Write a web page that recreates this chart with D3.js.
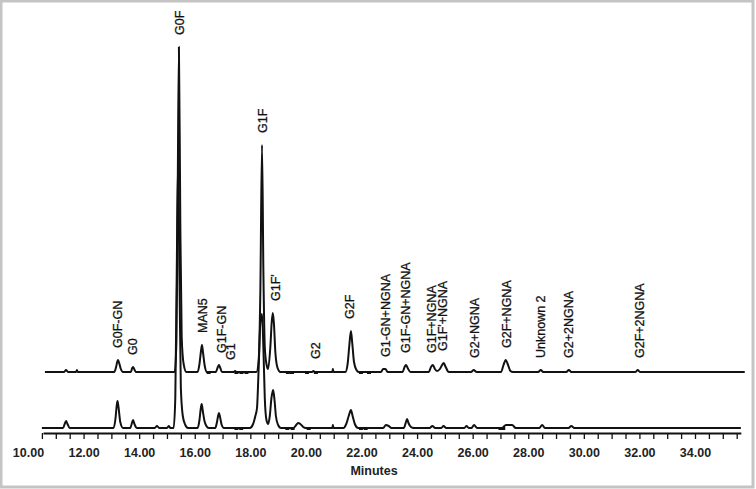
<!DOCTYPE html>
<html>
<head>
<meta charset="utf-8">
<script src="https://cdn.jsdelivr.net/npm/d3@7"></script>
<style>
  body { margin: 0; background: #fff; }
  svg { display: block; font-family: "Liberation Sans", Arial, sans-serif; }
</style>
</head>
<body>
<svg id="chart" width="756" height="489"></svg>
<script>
// retention time (min) / signal pairs
const upperTrace = [
  [10.61, 0],
  [11.30, 0], [11.37, 2], [11.44, 0],
  [11.73, 0], [11.76, 2], [11.79, 0],
  [13.10, 0], [13.17, 5], [13.21, 10], [13.24, 12], [13.28, 9], [13.34, 3], [13.42, 0],
  [13.70, 0], [13.75, 4], [13.78, 5], [13.82, 3], [13.88, 0],
  [15.28, 0], [15.34, 30], [15.38, 150], [15.43, 325], [15.48, 150], [15.53, 35], [15.60, 8], [15.70, 0],
  [16.10, 0], [16.17, 8], [16.22, 20], [16.26, 27], [16.30, 19], [16.36, 6], [16.44, 0],
  [16.76, 0], [16.83, 5], [16.87, 7], [16.92, 4], [16.98, 0],
  [17.40, 0], [17.45, 1], [17.50, 0],
  [18.22, 0], [18.30, 12], [18.36, 80], [18.42, 227], [18.47, 100], [18.52, 25], [18.58, 8], [18.64, 3],
  [18.72, 25], [18.77, 50], [18.81, 59], [18.85, 48], [18.90, 20], [18.98, 4], [19.08, 0],
  [20.22, 0], [20.27, 1], [20.32, 0],
  [20.95, 0], [20.97, 3], [20.99, 0],
  [21.42, 0], [21.50, 8], [21.56, 26], [21.62, 41], [21.67, 28], [21.73, 10], [21.82, 2], [21.90, 0],
  [22.70, 0], [22.78, 3], [22.86, 3], [22.94, 0],
  [23.48, 0], [23.55, 5], [23.60, 7], [23.66, 4], [23.76, 0],
  [24.42, 0], [24.50, 5], [24.57, 7], [24.64, 3], [24.72, 1],
  [24.82, 3], [24.90, 7], [24.96, 9], [25.03, 5], [25.14, 0],
  [25.94, 0], [26.04, 2], [26.14, 0],
  [27.02, 0], [27.11, 7], [27.19, 12], [27.26, 8], [27.36, 1], [27.45, 0],
  [28.36, 0], [28.45, 2], [28.54, 0],
  [29.37, 0], [29.46, 2], [29.55, 0],
  [31.86, 0], [31.94, 2], [32.02, 0],
  [35.79, 0]
];

const lowerTrace = [
  [10.50, 0],
  [11.26, 0], [11.32, 4], [11.37, 7], [11.42, 4], [11.50, 0],
  [13.08, 0], [13.15, 10], [13.19, 22], [13.22, 27], [13.26, 20], [13.32, 6], [13.42, 0],
  [13.68, 0], [13.74, 5], [13.78, 8], [13.83, 4], [13.92, 0],
  [14.56, 0], [14.64, 2], [14.72, 0],
  [15.00, 0], [15.07, 2], [15.12, 0],
  [15.24, 0], [15.30, 30], [15.35, 150], [15.40, 267], [15.45, 150], [15.50, 40], [15.57, 12], [15.66, 3], [15.76, 0],
  [16.10, 0], [16.17, 8], [16.21, 18], [16.25, 24], [16.29, 17], [16.35, 7], [16.42, 2], [16.50, 0],
  [16.74, 0], [16.80, 6], [16.84, 12], [16.87, 15], [16.91, 11], [16.97, 3], [17.05, 0],
  [17.98, 0], [18.10, 4], [18.18, 12], [18.24, 20], [18.30, 60], [18.36, 105], [18.42, 114], [18.47, 80], [18.52, 30], [18.58, 8], [18.64, 4],
  [18.70, 12], [18.76, 30], [18.82, 38], [18.87, 28], [18.92, 12], [19.00, 3], [19.10, 0],
  [19.55, 0], [19.65, 3], [19.72, 5], [19.80, 4], [19.90, 1], [20.00, 0],
  [20.95, 0], [20.97, 3], [20.99, 0],
  [21.35, 0], [21.45, 4], [21.54, 12], [21.62, 18], [21.68, 12], [21.76, 4], [21.88, 0],
  [22.78, 0], [22.88, 3], [22.98, 2], [23.08, 0],
  [23.52, 0], [23.60, 6], [23.64, 9], [23.69, 5], [23.78, 1], [23.88, 0],
  [24.45, 0], [24.55, 2], [24.65, 0],
  [24.87, 0], [24.95, 2], [25.05, 0],
  [25.70, 0], [25.78, 2], [25.86, 0],
  [25.96, 0], [26.05, 3], [26.16, 0],
  [27.05, 0], [27.20, 3], [27.42, 3], [27.55, 0],
  [28.40, 0], [28.50, 3], [28.60, 0],
  [29.45, 0], [29.55, 2], [29.66, 0],
  [35.65, 0]
];

// integration marks sitting on each baseline
const upperMarks = [16.50, 17.50, 17.68, 17.86, 19.35, 19.50, 20.04, 20.36, 21.98, 22.27];
const lowerMarks = [17.50, 17.67, 19.33, 19.52, 20.10, 21.98, 22.15, 27.00, 27.10];

const peakNames = ["G0F-GN", "G0", "G0F", "MAN5", "G1F-GN", "G1", "G1F", "G1F'", "G2", "G2F",
  "G1-GN+NGNA", "G1F-GN+NGNA", "G1F+NGNA", "G1F'+NGNA", "G2+NGNA", "G2F+NGNA",
  "Unknown 2", "G2+2NGNA", "G2F+2NGNA"];
const peakTimes = [13.24, 13.78, 15.47, 16.29, 16.98, 17.30, 18.45, 18.92, 20.36, 21.58,
  22.88, 23.60, 24.53, 24.93, 26.08, 27.23, 28.45, 29.46, 32.01];

const tickLabels = d3.range(10, 35, 2);
const minorTicks = d3.range(10.5, 35.51, 0.5);
const axisStart = 10.54, axisEnd = 35.65;
const upperOffset = 56;

const svg = d3.select("#chart");

// grey frame of the figure
svg.append("rect")
  .attr("x", 1).attr("y", 1)
  .attr("width", 752).attr("height", 486)
  .attr("fill", "none")
  .attr("stroke", "#c4c4c4")
  .attr("stroke-width", 3);

const x = d3.scaleLinear().domain([10, 34]).range([28, 695]);
const y = d3.scaleLinear().domain([0, 400]).range([428, 28]);

const line = d3.line()
  .x(d => x(d[0]))
  .y(d => y(d[1]))
  .curve(d3.curveMonotoneX);

svg.append("path")
  .datum(lowerTrace)
  .attr("d", line)
  .attr("fill", "none")
  .attr("stroke", "#111")
  .attr("stroke-width", 2)
  .attr("stroke-linejoin", "round");

svg.append("path")
  .datum(upperTrace.map(d => [d[0], d[1] + upperOffset]))
  .attr("d", line)
  .attr("fill", "none")
  .attr("stroke", "#111")
  .attr("stroke-width", 2)
  .attr("stroke-linejoin", "round");

// little integration squares
function drawMarks(times, base) {
  svg.append("g").selectAll("rect")
    .data(times)
    .join("rect")
    .attr("x", d => x(d) - 2)
    .attr("y", y(base) - 1)
    .attr("width", 4)
    .attr("height", 3)
    .attr("fill", "#111");
}
drawMarks(upperMarks, upperOffset);
drawMarks(lowerMarks, 0);

// peak labels, rotated, sitting just above the upper trace
function upperTop(t) {
  const near = upperTrace.filter(d => Math.abs(d[0] - t) < 0.12);
  return d3.max(near, d => d[1]) || 0;
}
const labels = peakNames.map((name, i) => ({ name: name, t: peakTimes[i] }));

svg.append("g").selectAll("text")
  .data(labels)
  .join("text")
  .attr("transform", d => {
    const by = Math.min(y(upperTop(d.t) + upperOffset) - 12, y(upperOffset) - 10);
    return `translate(${x(d.t)},${by}) rotate(-90)`;
  })
  .attr("dy", "0.35em")
  .attr("font-size", 12.5)
  .attr("fill", "#111")
  .attr("stroke", "#111")
  .attr("stroke-width", 0.3)
  .text(d => d.name);

// x axis: line and half-minute ticks
const axisScale = x.copy()
  .domain([axisStart, axisEnd])
  .range([x(axisStart), x(axisEnd)]);

const axisG = svg.append("g")
  .attr("transform", "translate(0,433)")
  .call(d3.axisBottom(axisScale).tickValues(minorTicks).tickSize(6).tickSizeOuter(0).tickFormat(""));
axisG.select(".domain").attr("stroke", "#111").attr("stroke-width", 2);
axisG.selectAll(".tick line").attr("stroke", "#111").attr("stroke-width", 1.3);

// tick labels every two minutes
const labelG = svg.append("g")
  .attr("transform", "translate(0,433)")
  .call(d3.axisBottom(x).tickValues(tickLabels).tickSize(0).tickPadding(15).tickFormat(d3.format(".2f")));
labelG.select(".domain").remove();
labelG.selectAll("text")
  .attr("font-family", "Liberation Sans, Arial, sans-serif")
  .attr("font-size", 12.5)
  .attr("font-weight", "bold")
  .attr("fill", "#222");

svg.append("text")
  .attr("x", 374)
  .attr("y", 475)
  .attr("text-anchor", "middle")
  .attr("font-size", 12.5)
  .attr("font-weight", "bold")
  .attr("fill", "#222")
  .text("Minutes");
</script>
</body>
</html>
